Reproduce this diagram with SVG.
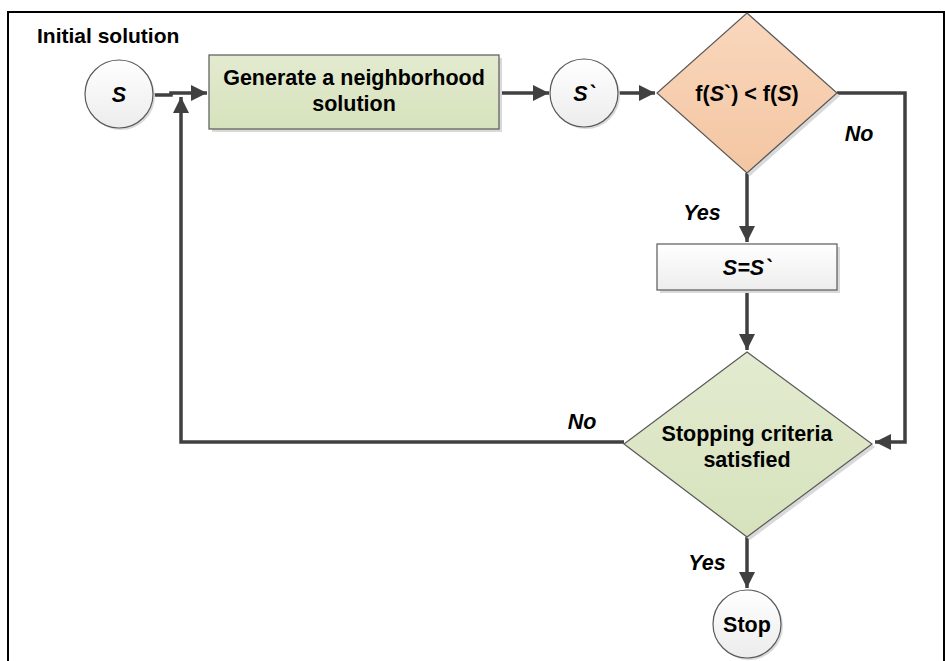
<svg xmlns="http://www.w3.org/2000/svg" width="945" height="661" viewBox="0 0 945 661">
<defs>
<marker id="ah" viewBox="0 0 10 10" refX="10" refY="5" markerWidth="4.6" markerHeight="4.6" orient="auto" markerUnits="strokeWidth">
<path d="M0,0 L10,5 L0,10 z" fill="#404040"/>
</marker>
<linearGradient id="gc" x1="0" y1="0" x2="0" y2="1"><stop offset="0" stop-color="#ffffff"/><stop offset="1" stop-color="#ececec"/></linearGradient>
<linearGradient id="gg" x1="0" y1="0" x2="0" y2="1"><stop offset="0" stop-color="#e3ebd0"/><stop offset="1" stop-color="#d6e2bc"/></linearGradient>
<linearGradient id="go" x1="0" y1="0" x2="0" y2="1"><stop offset="0" stop-color="#f9d7bd"/><stop offset="1" stop-color="#f4c6a2"/></linearGradient>
<linearGradient id="gw" x1="0" y1="0" x2="0" y2="1"><stop offset="0" stop-color="#ffffff"/><stop offset="1" stop-color="#ededed"/></linearGradient>
</defs>
<style>
.t{font-family:"Liberation Sans",Arial,sans-serif;font-weight:bold;font-size:21.5px;fill:#000;text-anchor:middle}
.i{font-style:italic}
.sh{fill:#d9d9d9}
.c{fill:url(#gc);stroke:#595959;stroke-width:1.2}
.ln{fill:none;stroke:#404040;stroke-width:3.5}
</style>
<rect x="8" y="12" width="936" height="660" fill="#fff" stroke="#000" stroke-width="2"/>
<text class="t" x="37" y="43" style="text-anchor:start;font-size:21px">Initial solution</text>
<g id="connectors">
<path class="ln" d="M153,95 H171 V93 H207" marker-end="url(#ah)"/>
<path class="ln" d="M624,442 H181 V97" marker-end="url(#ah)"/>
<path class="ln" d="M499,93 H549" marker-end="url(#ah)"/>
<path class="ln" d="M618,93 H655" marker-end="url(#ah)"/>
<path class="ln" d="M837,93 H905 V442 H875" marker-end="url(#ah)"/>
<path class="ln" d="M747,173 V242" marker-end="url(#ah)"/>
<path class="ln" d="M747,290 V350" marker-end="url(#ah)"/>
<path class="ln" d="M747,537 V588" marker-end="url(#ah)"/>
<text class="t i" x="859" y="141">No</text>
<text class="t i" x="702" y="220">Yes</text>
<text class="t i" x="582" y="429">No</text>
<text class="t i" x="707" y="570">Yes</text>
</g>
<g id="s">
<circle class="sh" cx="121" cy="96" r="34"/>
<circle class="c" cx="119" cy="94" r="34"/>
<text class="t i" x="119" y="102">S</text>
</g>
<g id="generate">
<rect class="sh" x="212" y="58" width="290" height="74"/>
<rect x="209" y="55" width="290" height="74" fill="url(#gg)" stroke="#595959" stroke-width="1.2"/>
<text class="t" x="354" y="85">Generate a neighborhood</text>
<text class="t" x="354" y="111">solution</text>
</g>
<g id="sprime">
<circle class="sh" cx="586" cy="95" r="34"/>
<circle class="c" cx="584" cy="93" r="34"/>
<text class="t i" x="584" y="101">S`</text>
</g>
<g id="compare">
<polygon class="sh" points="750,16 840,96 750,176 660,96"/>
<polygon points="747,13 837,93 747,173 657,93" fill="url(#go)" stroke="#595959" stroke-width="1.2"/>
<text class="t" x="747" y="101">f(<tspan class="i">S</tspan>`) &lt; f(<tspan class="i">S</tspan>)</text>
</g>
<g id="assign">
<rect class="sh" x="660" y="247" width="180" height="46"/>
<rect x="657" y="244" width="180" height="46" fill="url(#gw)" stroke="#595959" stroke-width="1.2"/>
<text class="t i" x="747" y="275">S=S`</text>
</g>
<g id="stopping">
<polygon class="sh" points="750,355 875,447 750,540 627,447"/>
<polygon points="747,352 872,444 747,537 624,444" fill="url(#gg)" stroke="#595959" stroke-width="1.2"/>
<text class="t" x="747" y="441">Stopping criteria</text>
<text class="t" x="747" y="467">satisfied</text>
</g>
<g id="stop">
<circle class="sh" cx="749" cy="626" r="34"/>
<circle class="c" cx="747" cy="624" r="34"/>
<text class="t" x="747" y="632">Stop</text>
</g>
</svg>
